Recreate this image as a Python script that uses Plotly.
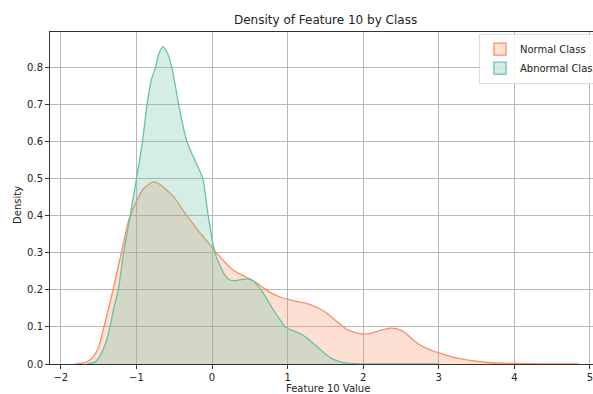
import plotly.graph_objects as go

# Density curves
normal_x = [-1.81, -1.7, -1.62, -1.57, -1.5, -1.44, -1.38, -1.31, -1.2, -1.1, -1.0, -0.9,
            -0.78, -0.7, -0.6, -0.5, -0.4, -0.33, -0.2, -0.1, 0.0, 0.06, 0.15, 0.28, 0.4,
            0.5, 0.6, 0.7, 0.8, 0.9, 1.0, 1.1, 1.25, 1.4, 1.52, 1.65, 1.78, 1.9, 2.0, 2.1,
            2.2, 2.35, 2.45, 2.55, 2.66, 2.8, 3.0, 3.2, 3.37, 3.64, 4.0, 4.4, 4.85]
normal_y = [0.0, 0.003, 0.01, 0.02, 0.045, 0.092, 0.14, 0.2, 0.3, 0.39, 0.44, 0.475,
            0.492, 0.487, 0.47, 0.45, 0.42, 0.4, 0.365, 0.34, 0.315, 0.3, 0.28, 0.254, 0.24,
            0.23, 0.218, 0.203, 0.19, 0.181, 0.175, 0.17, 0.164, 0.152, 0.137, 0.115, 0.094,
            0.085, 0.081, 0.083, 0.089, 0.097, 0.095, 0.085, 0.065, 0.046, 0.03, 0.018,
            0.011, 0.004, 0.0015, 0.0005, 0.0]

abnormal_x = [-1.65, -1.55, -1.5, -1.45, -1.4, -1.35, -1.3, -1.24, -1.17, -1.1, -1.05, -1.0,
              -0.92, -0.86, -0.8, -0.75, -0.7, -0.65, -0.6, -0.53, -0.44, -0.38, -0.33,
              -0.27, -0.18, -0.12, -0.05, 0.04, 0.1, 0.17, 0.24, 0.3, 0.38, 0.48, 0.56,
              0.63, 0.7, 0.8, 0.9, 0.97, 1.05, 1.12, 1.2, 1.3, 1.4, 1.5, 1.6, 1.7, 1.8,
              1.9, 2.0, 2.2, 2.5, 3.0]
abnormal_y = [0.0, 0.005, 0.016, 0.035, 0.06, 0.1, 0.15, 0.2, 0.3, 0.38, 0.44, 0.5,
              0.6, 0.7, 0.77, 0.8, 0.84, 0.857, 0.845, 0.8, 0.7, 0.64, 0.6, 0.57,
              0.53, 0.5, 0.4, 0.3, 0.268, 0.24, 0.227, 0.225, 0.228, 0.23, 0.222,
              0.205, 0.185, 0.15, 0.12, 0.1, 0.092, 0.086, 0.078, 0.063, 0.045, 0.027,
              0.013, 0.006, 0.002, 0.001, 0.0003, 0.0, 0.0, 0.0]

series_names = ["Normal Class", "Abnormal Class"]
x_ticks = [-2, -1, 0, 1, 2, 3, 4, 5]
y_ticks = [0.0, 0.1, 0.2, 0.3, 0.4, 0.5, 0.6, 0.7, 0.8]

FONT = "DejaVu Sans"
line_colors = ["#fc8d62", "#66c2a5"]
fill_colors = ["rgba(252,141,98,0.28)", "rgba(102,194,165,0.28)"]

fig = go.Figure()
for xs, ys, name, lc, fc in [(normal_x, normal_y, series_names[0], line_colors[0], fill_colors[0]),
                             (abnormal_x, abnormal_y, series_names[1], line_colors[1], fill_colors[1])]:
    fig.add_trace(go.Scatter(
        x=xs, y=ys, name=name, mode="lines", showlegend=False,
        line=dict(color=lc, width=1.3, shape="spline", smoothing=0.6),
        fill="tozeroy", fillcolor=fc,
    ))
# legend patches (rectangles with border, like the reference)
for name, lc, fc in zip(series_names, line_colors, fill_colors):
    fig.add_trace(go.Bar(
        x=[None], y=[None], name=name, showlegend=True,
        marker=dict(color=fc, line=dict(color=lc, width=1.3)),
    ))

fig.update_layout(
    width=593, height=394,
    margin=dict(l=50, r=0, t=32, b=30, autoexpand=False),
    paper_bgcolor="white", plot_bgcolor="white",
    font=dict(family=FONT, size=10, color="#222"),
    showlegend=True,
    legend=dict(x=0.79, y=0.995, xanchor="left", yanchor="top",
                bgcolor="rgba(255,255,255,0.85)", bordercolor="#dddddd", borderwidth=1,
                font=dict(family=FONT, size=10, color="#222"),
                itemwidth=30, tracegroupgap=0),
    xaxis=dict(range=[-2.143, 5.04], tickvals=x_ticks, automargin=False,
               ticklabeloverflow="allow",
               ticktext=[("\u2212" + str(abs(v))) if v < 0 else str(v) for v in x_ticks],
               showgrid=True, gridcolor="#b8b8b8", gridwidth=1,
               showline=True, linecolor="#333", linewidth=1, mirror=True,
               ticks="outside", ticklen=4, tickcolor="#333", zeroline=False),
    yaxis=dict(range=[0, 0.897], tickvals=y_ticks, automargin=False,
               ticktext=[f"{v:.1f}" for v in y_ticks],
               showgrid=True, gridcolor="#b8b8b8", gridwidth=1,
               showline=True, linecolor="#333", linewidth=1,
               ticks="outside", ticklen=4, tickcolor="#333", zeroline=False),
    annotations=[
        dict(text="Density of Feature 10 by Class", xref="paper", yref="paper",
             x=0.508, y=1.036, xanchor="center", yanchor="middle", showarrow=False,
             font=dict(family=FONT, size=12, color="#222")),
        dict(text="Feature 10 Value", xref="paper", yref="paper",
             x=0.512, y=-0.075, xanchor="center", yanchor="middle", showarrow=False,
             font=dict(family=FONT, size=10, color="#222")),
        dict(text="Density", xref="paper", yref="paper", textangle=-90,
             x=-0.059, y=0.479, xanchor="center", yanchor="middle", showarrow=False,
             font=dict(family=FONT, size=10, color="#222")),
    ],
)

fig.write_html("out.html")
